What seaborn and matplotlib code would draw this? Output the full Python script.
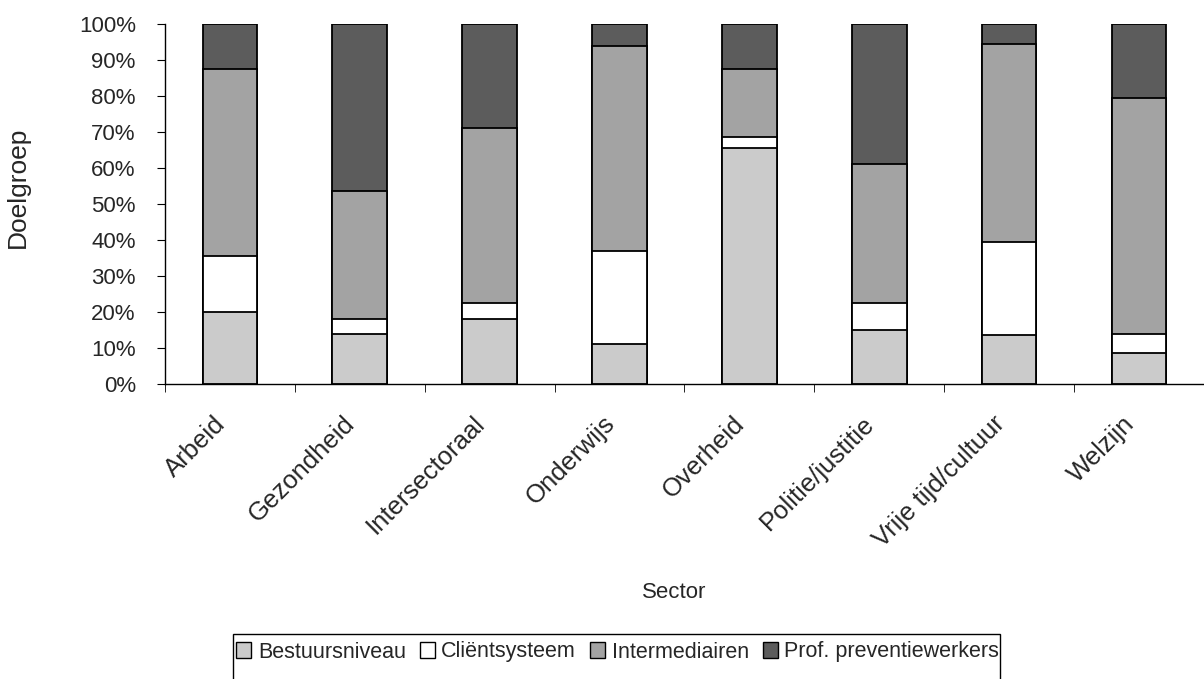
import numpy as np
import pandas as pd
import matplotlib
matplotlib.use('Agg')
import matplotlib.pyplot as plt
from matplotlib.patches import Patch, Rectangle
from matplotlib.ticker import FixedLocator, PercentFormatter
import seaborn as sns

sectors = ['Arbeid', 'Gezondheid', 'Intersectoraal', 'Onderwijs', 'Overheid',
           'Politie/justitie', 'Vrije tijd/cultuur', 'Welzijn']
series = ['Bestuursniveau', 'Cliëntsysteem', 'Intermediairen', 'Prof. preventiewerkers']
bestuursniveau = [20.0, 14.0, 18.0, 11.0, 65.5, 15.0, 13.5, 8.5]
clientsysteem = [15.5, 4.0, 4.5, 26.0, 3.0, 7.5, 26.0, 5.5]
intermediairen = [52.0, 35.5, 48.5, 57.0, 19.0, 38.5, 55.0, 65.5]
prof_preventie = [12.5, 46.5, 29.0, 6.0, 12.5, 39.0, 5.5, 20.5]
colors = ['#cbcbcb', '#ffffff', '#a3a3a3', '#5c5c5c']

sns.set_style('white')
plt.rcParams['font.family'] = ['Liberation Sans', 'DejaVu Sans']

df = pd.DataFrame({'Sector': sectors, series[0]: bestuursniveau, series[1]: clientsysteem,
                   series[2]: intermediairen, series[3]: prof_preventie})
cum = df[series].cumsum(axis=1)

fig = plt.figure(figsize=(12.04, 6.79), dpi=100)
ax = fig.add_axes([0.137, 0.4345, 0.863, 0.530])

# draw cumulative totals from top layer down so the lower ones sit in front
for s, c in reversed(list(zip(series, colors))):
    sns.barplot(x=df['Sector'], y=cum[s], color=c, saturation=1, width=0.42,
                edgecolor='black', linewidth=1.3, ax=ax)

ax.set_ylim(0, 100)
ax.set_xlim(-0.5, 7.5)
ax.yaxis.set_major_locator(FixedLocator(np.arange(0, 101, 10)))
ax.yaxis.set_major_formatter(PercentFormatter(decimals=0))
ax.set_xticks(range(len(sectors)))
ax.set_xticklabels(sectors, rotation=45, ha='right', va='bottom', rotation_mode='anchor',
                   fontsize=18.5)
ax.xaxis.set_minor_locator(FixedLocator(np.arange(-0.5, 8, 1)))
ax.tick_params(axis='x', which='major', length=0, pad=32)
ax.tick_params(axis='x', which='minor', length=6, direction='out', color='black', bottom=True)
ax.tick_params(axis='y', length=6, direction='out', color='black', left=True, labelsize=16, pad=15)

for side in ['top', 'right']:
    ax.spines[side].set_visible(False)
for side in ['left', 'bottom']:
    ax.spines[side].set_color('black')
    ax.spines[side].set_linewidth(1.0)

ax.set_ylabel('Doelgroep', fontsize=19, va='center')
ax.yaxis.set_label_coords(-0.1415, 0.547)
ax.set_xlabel('Sector', fontsize=16)
ax.xaxis.set_label_coords(0.49, -0.55)

handles = [Patch(facecolor=c, edgecolor='black', linewidth=1.0) for c in colors]
fig.legend(handles, series, loc='center', bbox_to_anchor=(0.513, 1 - 652 / 679), ncol=4,
           fontsize=15.5, frameon=False,
           handlelength=0.7, handleheight=0.7, handletextpad=0.3, columnspacing=0.65)
# legend box runs off the bottom of the picture, as in the scan
fig.patches.append(Rectangle((233 / 1204, -0.05), (1000 - 233) / 1204, 0.05 + 1 - 634 / 679,
                             transform=fig.transFigure, fill=False, edgecolor='black',
                             linewidth=1.0))

fig.savefig('out.png', dpi=100)
